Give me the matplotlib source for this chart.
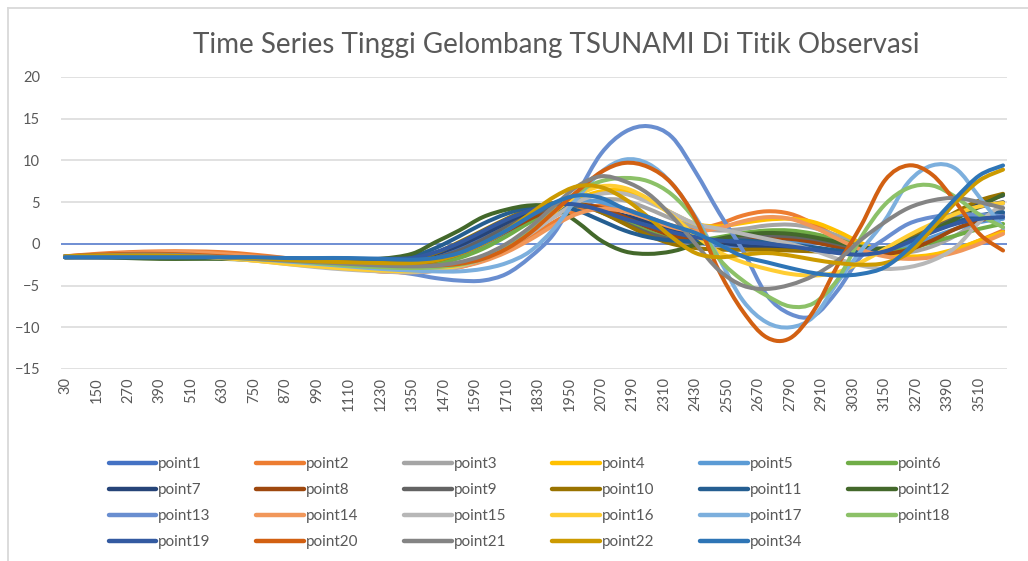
import matplotlib
matplotlib.use("Agg")
import matplotlib.pyplot as plt
from matplotlib.lines import Line2D
from matplotlib.path import Path
from matplotlib.patches import PathPatch

plt.rcParams['font.family'] = ['Lato', 'DejaVu Sans']

# observation times (s); sparse in the quiet first half, denser after
times = [30, 150, 270, 390, 510, 630, 750, 870, 990, 1110, 1230, 1350,
         1440, 1530, 1620, 1710, 1800, 1890, 1980, 2070, 2160, 2250, 2340,
         2430, 2520, 2610, 2700, 2790, 2880, 2970, 3060, 3150, 3240, 3330,
         3420, 3510, 3600]

point1 = [-1.5, -1.4, -1.3, -1.3, -1.4, -1.5, -1.6, -1.7, -1.9, -2.0, -2.1, -2.0,
          -1.5, -0.5, 0.9, 2.4, 3.8, 4.8, 5.0, 4.3, 3.2, 2.0, 1.0, 0.2, -0.2,
          -0.2, 0.1, 0.3, 0.2, -0.3, -0.8, -0.6, 0.4, 1.6, 2.6, 3.3, 3.6]
point2 = [-1.5, -1.2, -1.0, -0.9, -0.9, -1.0, -1.3, -1.7, -2.2, -2.8, -3.3, -3.4,
          -3.2, -2.8, -2.0, -0.8, 0.8, 2.6, 4.0, 4.6, 4.2, 3.2, 2.2, 1.8, 2.4,
          3.4, 3.9, 3.6, 2.4, 0.8, -0.6, -1.4, -1.7, -1.4, -0.7, 0.4, 1.6]
point3 = [-1.5, -1.4, -1.3, -1.3, -1.4, -1.6, -1.8, -2.1, -2.4, -2.7, -3.0, -3.1,
          -2.9, -2.4, -1.5, -0.2, 1.4, 3.2, 4.6, 5.3, 5.2, 4.2, 3.0, 2.0, 1.6,
          1.8, 2.2, 2.3, 1.9, 1.0, 0.0, -0.8, -1.0, -0.3, 1.0, 2.8, 4.3]
point4 = [-1.6, -1.5, -1.4, -1.4, -1.5, -1.7, -2.0, -2.3, -2.6, -2.9, -3.1, -3.2,
          -3.0, -2.5, -1.6, -0.3, 1.4, 3.4, 5.3, 6.3, 6.4, 5.3, 3.7, 2.4, 2.1,
          2.5, 2.9, 3.0, 2.6, 1.5, 0.1, -1.0, -1.5, -1.3, -0.6, 0.4, 1.4]
point5 = [-1.6, -1.5, -1.4, -1.4, -1.5, -1.6, -1.8, -2.0, -2.2, -2.4, -2.6, -2.6,
          -2.2, -1.4, -0.2, 1.3, 3.0, 4.4, 5.2, 5.0, 4.0, 2.6, 1.3, 0.4, 0.0,
          0.0, 0.2, 0.3, 0.2, -0.2, -0.6, -0.7, -0.2, 0.8, 1.8, 2.6, 3.0]
point6 = [-1.5, -1.4, -1.4, -1.4, -1.5, -1.7, -1.9, -2.1, -2.3, -2.5, -2.7, -2.7,
          -2.4, -1.7, -0.6, 0.9, 2.6, 4.0, 4.6, 4.0, 2.8, 1.5, 0.6, 0.4, 0.8,
          1.3, 1.6, 1.6, 1.2, 0.5, -0.3, -0.8, -0.6, 0.2, 1.0, 1.8, 2.4]
point7 = [-1.6, -1.6, -1.6, -1.6, -1.6, -1.7, -1.7, -1.8, -1.8, -1.9, -1.9, -1.8,
          -1.2, -0.2, 1.1, 2.5, 3.7, 4.5, 4.6, 4.1, 3.4, 2.6, 1.8, 0.9, 0.2,
          -0.2, -0.4, -0.4, -0.5, -0.9, -1.2, -0.8, 0.5, 2.0, 3.6, 5.0, 5.8]
point8 = [-1.5, -1.4, -1.3, -1.3, -1.4, -1.5, -1.7, -1.9, -2.1, -2.3, -2.4, -2.4,
          -2.0, -1.2, 0.0, 1.5, 3.0, 4.2, 4.7, 4.3, 3.2, 2.0, 1.0, 0.4, 0.3,
          0.5, 0.7, 0.6, 0.2, -0.4, -1.0, -1.2, -0.7, 0.4, 1.8, 2.8, 3.3]
point9 = [-1.5, -1.5, -1.5, -1.5, -1.5, -1.6, -1.7, -1.9, -2.0, -2.2, -2.3, -2.2,
          -1.7, -0.8, 0.5, 2.0, 3.4, 4.4, 4.6, 3.8, 2.5, 1.3, 0.5, 0.2, 0.4,
          0.8, 1.0, 0.9, 0.6, 0.0, -0.6, -0.6, 0.4, 1.8, 3.2, 4.4, 5.0]
point10 = [-1.6, -1.6, -1.6, -1.6, -1.6, -1.7, -1.8, -1.9, -2.0, -2.1, -2.1, -1.9,
           -1.1, 0.2, 1.6, 3.0, 4.2, 4.9, 4.8, 3.8, 2.4, 1.0, 0.0, -0.5, -0.7,
           -0.7, -0.7, -0.8, -0.9, -1.0, -1.0, -0.6, 0.6, 2.2, 3.8, 5.2, 6.0]
point11 = [-1.6, -1.6, -1.6, -1.7, -1.7, -1.7, -1.7, -1.8, -1.8, -1.8, -1.8, -1.5,
           -0.5, 0.9, 2.4, 3.6, 4.4, 4.6, 4.0, 2.8, 1.6, 0.8, 0.4, 0.3, 0.4,
           0.4, 0.2, -0.1, -0.4, -0.8, -1.0, -0.6, 0.4, 1.6, 2.6, 3.4, 3.8]
point12 = [-1.6, -1.6, -1.7, -1.8, -1.8, -1.8, -1.9, -1.9, -1.9, -1.9, -1.8, -1.2,
           0.2, 1.6, 3.2, 4.1, 4.6, 4.4, 2.6, 0.4, -0.9, -1.2, -0.9, -0.1, 0.6,
           1.1, 1.3, 1.2, 0.8, 0.2, -0.4, -0.5, 0.3, 1.6, 3.0, 4.5, 5.9]
point13 = [-1.5, -1.4, -1.3, -1.3, -1.4, -1.6, -1.8, -2.0, -2.3, -2.7, -3.1, -3.6,
           -4.1, -4.4, -4.4, -3.6, -1.6, 1.2, 6.0, 10.8, 13.4, 14.1, 12.8, 8.6, 3.7,
           -0.8, -6.1, -8.4, -8.6, -5.6, -1.5, 0.6, 2.4, 3.2, 3.5, 3.5, 3.3]
point14 = [-1.5, -1.3, -1.1, -1.0, -1.0, -1.2, -1.5, -1.9, -2.4, -2.9, -3.3, -3.4,
           -3.2, -2.8, -2.1, -1.0, 0.5, 2.2, 3.6, 4.2, 3.9, 3.0, 2.0, 1.5, 1.9,
           2.7, 3.2, 3.0, 2.0, 0.6, -0.7, -1.5, -1.8, -1.6, -1.0, 0.0, 1.2]
point15 = [-1.5, -1.4, -1.3, -1.3, -1.4, -1.7, -2.0, -2.4, -2.8, -3.1, -3.3, -3.4,
           -3.2, -2.7, -1.8, -0.5, 1.2, 3.2, 5.0, 6.0, 6.0, 5.0, 3.7, 2.4, 1.8,
           1.2, 0.6, 0.0, -0.8, -1.8, -2.6, -3.0, -2.8, -2.0, -0.4, 2.6, 4.8]
point16 = [-1.6, -1.5, -1.4, -1.4, -1.5, -1.7, -2.0, -2.4, -2.7, -3.0, -3.2, -3.3,
           -3.1, -2.6, -1.7, -0.3, 1.6, 3.8, 5.8, 6.9, 6.7, 5.4, 3.4, 1.0, -1.0,
           -2.2, -3.0, -3.6, -3.8, -3.4, -2.2, -0.6, 1.0, 2.4, 3.6, 4.5, 4.9]
point17 = [-1.6, -1.5, -1.4, -1.3, -1.4, -1.6, -1.8, -2.1, -2.4, -2.7, -3.0, -3.2,
           -3.3, -3.3, -3.0, -2.3, -0.9, 1.8, 5.5, 8.6, 10.1, 9.6, 7.2, 3.2, -1.8,
           -6.8, -9.4, -10.0, -8.7, -4.6, -0.8, 2.8, 7.4, 9.4, 9.0, 5.6, 1.9]
point18 = [-1.5, -1.4, -1.3, -1.3, -1.4, -1.6, -1.8, -2.0, -2.3, -2.6, -2.8, -2.9,
           -2.8, -2.5, -1.8, -0.4, 1.6, 4.0, 6.2, 7.5, 7.9, 7.5, 5.9, 2.8, -1.8,
           -4.4, -6.2, -7.5, -7.1, -4.3, 0.8, 4.7, 6.7, 7.0, 5.6, 3.5, 2.0]
point19 = [-1.6, -1.6, -1.6, -1.6, -1.6, -1.6, -1.7, -1.7, -1.8, -1.8, -1.8, -1.7,
           -1.0, 0.1, 1.5, 2.9, 4.0, 4.7, 4.7, 4.0, 3.0, 2.2, 1.4, 0.8, 0.4,
           0.2, 0.0, -0.3, -0.7, -1.1, -1.3, -0.9, 0.2, 1.4, 2.4, 3.0, 3.2]
point20 = [-1.5, -1.3, -1.2, -1.2, -1.3, -1.5, -1.7, -1.9, -2.1, -2.3, -2.5, -2.6,
           -2.6, -2.4, -1.8, -0.6, 1.3, 3.8, 6.3, 8.6, 9.7, 9.2, 7.2, 3.0, -3.3,
           -8.1, -11.2, -11.3, -8.0, -2.6, 2.2, 7.6, 9.4, 8.3, 5.0, 1.2, -0.8]
point21 = [-1.5, -1.4, -1.3, -1.3, -1.4, -1.6, -1.8, -2.0, -2.2, -2.4, -2.6, -2.7,
           -2.6, -2.2, -1.4, 0.0, 2.0, 4.5, 6.9, 8.1, 7.5, 6.0, 3.3, 0.0, -3.2,
           -5.0, -5.4, -4.9, -3.8, -2.0, 0.5, 2.6, 4.3, 5.2, 5.5, 5.0, 4.3]
point22 = [-1.5, -1.4, -1.4, -1.4, -1.5, -1.6, -1.7, -1.9, -2.1, -2.2, -2.3, -2.3,
           -2.0, -1.2, 0.0, 1.6, 3.6, 5.6, 6.9, 6.8, 5.4, 3.2, 0.8, -1.1, -1.6,
           -1.3, -1.1, -1.4, -1.9, -2.3, -2.5, -2.3, -1.1, 1.8, 5.0, 7.6, 8.9]
point34 = [-1.6, -1.6, -1.6, -1.6, -1.6, -1.6, -1.6, -1.7, -1.7, -1.7, -1.8, -1.9,
           -1.7, -1.1, 0.1, 1.6, 3.3, 4.9, 5.8, 5.5, 4.2, 3.2, 2.2, 1.3, -0.1,
           -1.5, -2.2, -2.9, -3.5, -3.8, -3.6, -2.8, -0.6, 2.4, 5.5, 8.2, 9.4]

names = ["point1", "point2", "point3", "point4", "point5", "point6",
         "point7", "point8", "point9", "point10", "point11", "point12",
         "point13", "point14", "point15", "point16", "point17", "point18",
         "point19", "point20", "point21", "point22", "point34"]
values = [point1, point2, point3, point4, point5, point6,
          point7, point8, point9, point10, point11, point12,
          point13, point14, point15, point16, point17, point18,
          point19, point20, point21, point22, point34]
colors = ["#4472C4", "#ED7D31", "#A5A5A5", "#FFC000", "#5B9BD5", "#70AD47",
          "#264478", "#9E480E", "#636363", "#997300", "#255E91", "#43682B",
          "#698ED0", "#F1975A", "#B7B7B7", "#FFCD33", "#7CAFDD", "#8CC168",
          "#335AA1", "#D26012", "#848484", "#CC9A00", "#2E75B6"]

tick_times = list(range(30, 3511, 120))
grey = "#595959"


def smooth_path(x, y):
    # Excel-style "smoothed line": cubic Bezier segments through every point
    pts = list(zip(x, y))
    n = len(pts)
    verts = [pts[0]]
    codes = [Path.MOVETO]
    for i in range(n - 1):
        p0 = pts[max(i - 1, 0)]
        p1 = pts[i]
        p2 = pts[i + 1]
        p3 = pts[min(i + 2, n - 1)]
        c1 = (p1[0] + (p2[0] - p0[0]) / 6, p1[1] + (p2[1] - p0[1]) / 6)
        c2 = (p2[0] - (p3[0] - p1[0]) / 6, p2[1] - (p3[1] - p1[1]) / 6)
        verts += [c1, c2, p2]
        codes += [Path.CURVE4] * 3
    return Path(verts, codes)


fig = plt.figure(figsize=(10.28, 5.61), dpi=100)
ax = fig.add_axes([61 / 1028, 1 - 369 / 561, 946 / 1028, 292 / 561])

handles = {}
for name, v, c in zip(names, values, colors):
    ax.add_patch(PathPatch(smooth_path(times, v), fill=False, edgecolor=c,
                           lw=2.9, capstyle="round", joinstyle="round", zorder=3))
    handles[name] = Line2D([], [], color=c, lw=3.2, solid_capstyle="round")

ax.set_xlim(15, 3615)
ax.set_ylim(-15, 20)
ax.set_yticks(range(-15, 21, 5))
ax.set_xticks(tick_times)
ax.set_xticklabels([str(t) for t in tick_times], rotation=90)
ax.tick_params(axis="both", length=0, colors=grey, labelsize=10.5)
ax.tick_params(axis="y", pad=15)
ax.tick_params(axis="x", pad=6)
ax.grid(axis="y", color="#D9D9D9", lw=1.1, zorder=0)
ax.set_axisbelow(True)
for s in ax.spines.values():
    s.set_visible(False)
ax.axhline(0, color="#6F8FD4", lw=1.4, zorder=2)

fig.text(556 / 1028, 1 - 45 / 561, "Time Series Tinggi Gelombang TSUNAMI Di Titik Observasi",
         ha="center", va="center", fontsize=20, color=grey)

# chart area border (left and top edges are visible)
fig.add_artist(Line2D([7.5 / 1028, 7.5 / 1028], [0, 1 - 7.5 / 561],
                      transform=fig.transFigure, color="#D9D9D9", lw=1.3))
fig.add_artist(Line2D([7.5 / 1028, 1], [1 - 7.5 / 561, 1 - 7.5 / 561],
                      transform=fig.transFigure, color="#D9D9D9", lw=1.3))

# legend reads row by row, matplotlib fills column by column
ncol = 6
order = [names[r * ncol + c] for c in range(ncol) for r in range(4)
         if r * ncol + c < len(names)]
leg = fig.legend([handles[n] for n in order], order, loc="upper left", ncol=ncol,
                 bbox_to_anchor=(108.5 / 1028, 1 - 457 / 561),
                 frameon=False, fontsize=11, handlelength=3.1,
                 handletextpad=0.15, columnspacing=3.0, labelspacing=0.79,
                 borderpad=0, borderaxespad=0)
for t in leg.get_texts():
    t.set_color(grey)

fig.savefig("out.png", dpi=100)
